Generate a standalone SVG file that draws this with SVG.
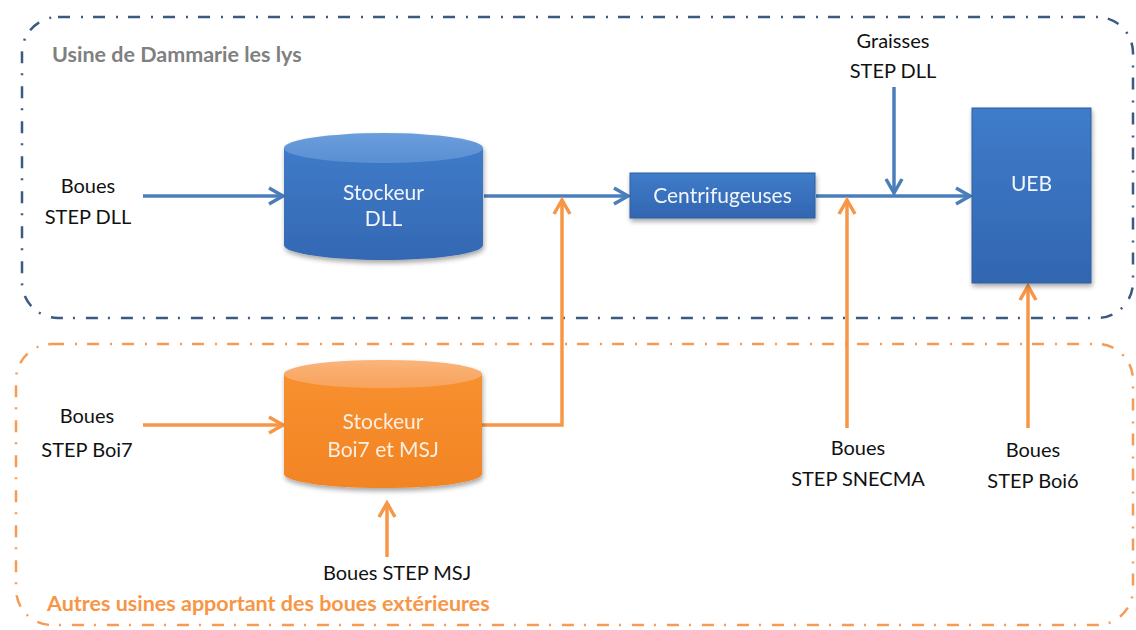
<svg xmlns="http://www.w3.org/2000/svg" width="1136" height="630" viewBox="0 0 1136 630">
<style>
.lbl{font-family:Lato,"Open Sans","Liberation Sans",sans-serif;font-size:20px;fill:#111;text-anchor:middle}
.wt{font-family:Lato,"Open Sans","Liberation Sans",sans-serif;font-size:21px;fill:#f2f6fc;text-anchor:middle}
.wto{font-family:Lato,"Open Sans","Liberation Sans",sans-serif;font-size:21px;fill:#fdeee2;text-anchor:middle}
.title{font-family:Lato,"Open Sans","Liberation Sans",sans-serif;font-size:21.5px;font-weight:bold}
.bl{stroke:#4a7ebb;stroke-width:3.5;fill:none}
.or{stroke:#f79646;stroke-width:3.5;fill:none}
</style>
<defs>
<marker id="ab" markerWidth="8" markerHeight="10" refX="7" refY="5" orient="auto" markerUnits="userSpaceOnUse" viewBox="0 0 8 10" overflow="visible">
<polyline points="-7,-3 7,5 -7,13" fill="none" stroke="#4a7ebb" stroke-width="3.5" stroke-linejoin="miter"/>
</marker>
<marker id="ao" markerWidth="8" markerHeight="10" refX="7" refY="5" orient="auto" markerUnits="userSpaceOnUse" viewBox="0 0 8 10" overflow="visible">
<polyline points="-7,-3 7,5 -7,13" fill="none" stroke="#f79646" stroke-width="3.5" stroke-linejoin="miter"/>
</marker>
<linearGradient id="gbBody" x1="0" y1="0" x2="0" y2="1">
<stop offset="0" stop-color="#3f7bc8"/><stop offset="1" stop-color="#3468b3"/>
</linearGradient>
<linearGradient id="gbTop" x1="0" y1="0" x2="0" y2="1">
<stop offset="0" stop-color="#6a9edc"/><stop offset="1" stop-color="#5a8fd3"/>
</linearGradient>
<linearGradient id="goBody" x1="0" y1="0" x2="0" y2="1">
<stop offset="0" stop-color="#f7902f"/><stop offset="1" stop-color="#f28424"/>
</linearGradient>
<linearGradient id="goTop" x1="0" y1="0" x2="0" y2="1">
<stop offset="0" stop-color="#fab47a"/><stop offset="1" stop-color="#f8a35c"/>
</linearGradient>
<linearGradient id="gBox" x1="0" y1="0" x2="0" y2="1">
<stop offset="0" stop-color="#3f7cca"/><stop offset="1" stop-color="#3266b1"/>
</linearGradient>
<filter id="sh" x="-10%" y="-10%" width="125%" height="130%">
<feGaussianBlur in="SourceAlpha" stdDeviation="2.5"/>
<feOffset dx="1" dy="3" result="b"/>
<feComponentTransfer><feFuncA type="linear" slope="0.35"/></feComponentTransfer>
<feMerge><feMergeNode/><feMergeNode in="SourceGraphic"/></feMerge>
</filter>
</defs>

<g id="container-dll">
<rect x="22" y="17" width="1111" height="301" rx="36" fill="none" stroke="#3b5a82" stroke-width="2.5" stroke-dasharray="12 11 2 10"/>
<text x="52" y="62" class="title" fill="#808080">Usine de Dammarie les lys</text>
</g>
<g id="container-ext">
<rect x="16" y="344" width="1117" height="281" rx="36" fill="none" stroke="#f59b55" stroke-width="2.5" stroke-dasharray="12 11 2 10"/>
<text x="47" y="611" class="title" fill="#f79646">Autres usines apportant des boues extérieures</text>
</g>

<g id="connectors">
<line x1="143" y1="196" x2="283" y2="196" class="bl" marker-end="url(#ab)"/>
<line x1="484" y1="196" x2="628" y2="196" class="bl" marker-end="url(#ab)"/>
<line x1="816" y1="196" x2="970" y2="196" class="bl" marker-end="url(#ab)"/>
<line x1="894" y1="87" x2="894" y2="193" class="bl" marker-end="url(#ab)"/>
<line x1="143" y1="425" x2="283" y2="425" class="or" marker-end="url(#ao)"/>
<polyline points="482,425 562,425 562,200" class="or" marker-end="url(#ao)"/>
<line x1="847" y1="428" x2="847" y2="200" class="or" marker-end="url(#ao)"/>
<line x1="1028" y1="428" x2="1028" y2="286" class="or" marker-end="url(#ao)"/>
<line x1="387" y1="557" x2="387" y2="503" class="or" marker-end="url(#ao)"/>
</g>

<g id="stockeur-dll" filter="url(#sh)">
<path d="M284,148 L284,245 A99.5,15 0 0 0 483,245 L483,148 Z" fill="url(#gbBody)"/>
<ellipse cx="383.5" cy="148" rx="99.5" ry="15" fill="url(#gbTop)"/>
<text x="383.5" y="200" class="wt">Stockeur</text>
<text x="383.5" y="226" class="wt">DLL</text>
</g>

<g id="centrifugeuses" filter="url(#sh)">
<rect x="630" y="173" width="185" height="45" fill="url(#gBox)" stroke="#2f5f9f" stroke-width="1"/>
<text x="722.5" y="203" class="wt">Centrifugeuses</text>
</g>

<g id="ueb" filter="url(#sh)">
<rect x="972" y="108" width="119" height="175" fill="url(#gBox)" stroke="#2f5f9f" stroke-width="1"/>
<text x="1031.5" y="191" class="wt">UEB</text>
</g>

<g id="stockeur-boi7" filter="url(#sh)">
<path d="M284,374 L284,474 A99,14 0 0 0 482,474 L482,374 Z" fill="url(#goBody)"/>
<ellipse cx="383" cy="374" rx="99" ry="14" fill="url(#goTop)"/>
<text x="383" y="429" class="wto">Stockeur</text>
<text x="383" y="457" class="wto">Boi7 et MSJ</text>
</g>

<g id="src-dll">
<text x="88" y="193" class="lbl">Boues</text>
<text x="88" y="224" class="lbl">STEP DLL</text>
</g>
<g id="src-graisses">
<text x="893" y="48" class="lbl">Graisses</text>
<text x="893" y="78" class="lbl">STEP DLL</text>
</g>
<g id="src-boi7">
<text x="87" y="423" class="lbl">Boues</text>
<text x="87" y="457" class="lbl">STEP Boi7</text>
</g>
<g id="src-msj">
<text x="397" y="580" class="lbl">Boues STEP MSJ</text>
</g>
<g id="src-snecma">
<text x="858" y="455" class="lbl">Boues</text>
<text x="858" y="486" class="lbl">STEP SNECMA</text>
</g>
<g id="src-boi6">
<text x="1033" y="457" class="lbl">Boues</text>
<text x="1033" y="488" class="lbl">STEP Boi6</text>
</g>
</svg>
